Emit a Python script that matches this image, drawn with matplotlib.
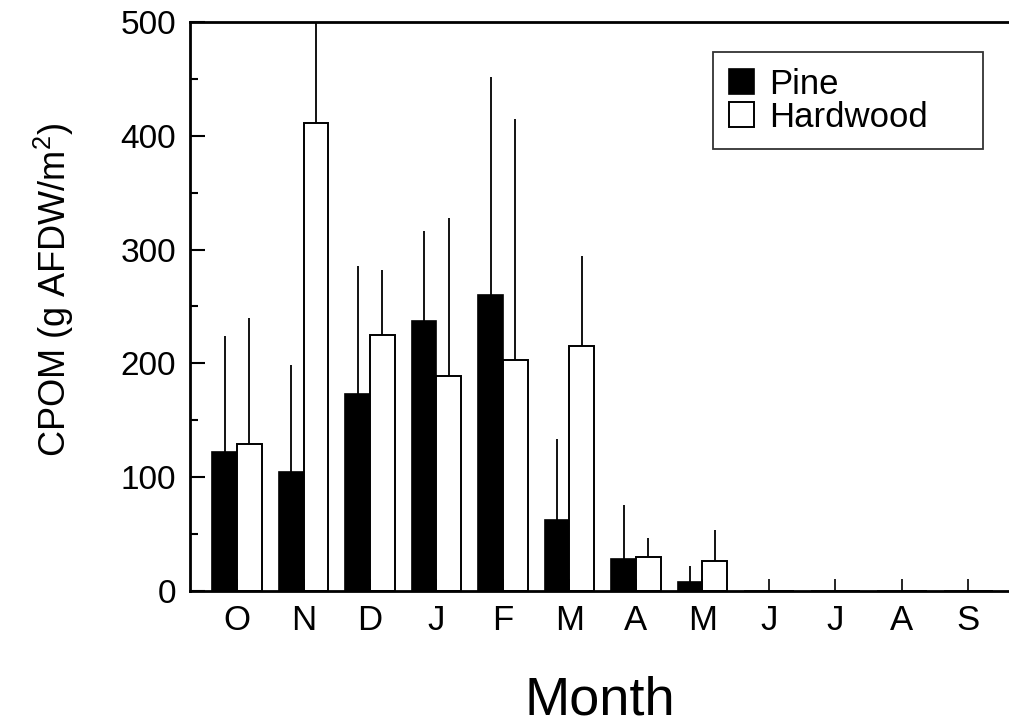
import matplotlib
matplotlib.use('Agg')
import matplotlib.pyplot as plt
import numpy as np
from matplotlib.ticker import MultipleLocator

plt.rcParams['font.family'] = ['Liberation Sans', 'DejaVu Sans']
plt.rcParams['mathtext.fontset'] = 'custom'
plt.rcParams['mathtext.rm'] = 'Liberation Sans'
plt.rcParams['mathtext.default'] = 'regular'

months = ['O', 'N', 'D', 'J', 'F', 'M', 'A', 'M', 'J', 'J', 'A', 'S']
pine = [122, 105, 173, 237, 260, 62, 28, 8, 0, 0, 0, 0]
pine_err = [102, 94, 113, 79, 192, 72, 48, 14, 0, 0, 0, 0]
hardwood = [129, 411, 225, 189, 203, 215, 30, 26, 0, 0, 0, 0]
hardwood_err = [111, 130, 57, 139, 212, 79, 17, 28, 0, 0, 0, 0]

x = np.arange(len(months))
w = 0.37

fig = plt.figure(figsize=(10.09, 7.27), dpi=100)
ax = fig.add_axes([190 / 1009, 136 / 727, 819 / 1009, 569 / 727])

ax.bar(x - w / 2, pine, w, color='black', edgecolor='black', linewidth=1.2, label='Pine')
ax.bar(x + w / 2, hardwood, w, color='white', edgecolor='black', linewidth=1.4, label='Hardwood')

# upper error bars only, no caps
ax.errorbar(x - w / 2, pine, yerr=[np.zeros(len(x)), pine_err], fmt='none',
            ecolor='black', elinewidth=1.3, capsize=0)
ax.errorbar(x + w / 2, hardwood, yerr=[np.zeros(len(x)), hardwood_err], fmt='none',
            ecolor='black', elinewidth=1.3, capsize=0)

ax.set_xlim(-0.707, 11.61)
ax.set_ylim(0, 500)
ax.set_xticks(x)
ax.set_xticklabels(months)
ax.yaxis.set_major_locator(MultipleLocator(100))
ax.yaxis.set_minor_locator(MultipleLocator(50))

ax.tick_params(axis='x', direction='in', length=9, width=1.2, pad=9, labelsize=25)
ax.tick_params(axis='y', which='major', direction='in', length=11, width=1.5, pad=10, labelsize=24)
ax.tick_params(axis='y', which='minor', direction='in', length=6, width=1.5)

ax.spines['right'].set_visible(False)
for s in ['left', 'top', 'bottom']:
    ax.spines[s].set_linewidth(2)

ax.set_ylabel(r'CPOM (g AFDW/m$^{2}$)', fontsize=26, labelpad=32)
ax.yaxis.label.set_y(0.53)
ax.set_xlabel('Month', fontsize=39, labelpad=28)

# wide legend box, entries left-aligned
leg = ax.legend(loc='upper left', bbox_to_anchor=(0.6386, 0.5, 0.3297, 0.447),
                mode='expand', fontsize=25,
                frameon=True, fancybox=False, edgecolor='black',
                handlelength=0.72, handleheight=0.72, handletextpad=0.45,
                labelspacing=0.0, borderpad=0.45, borderaxespad=0)
leg.get_frame().set_linewidth(1.3)

fig.savefig('out.png', dpi=100)
